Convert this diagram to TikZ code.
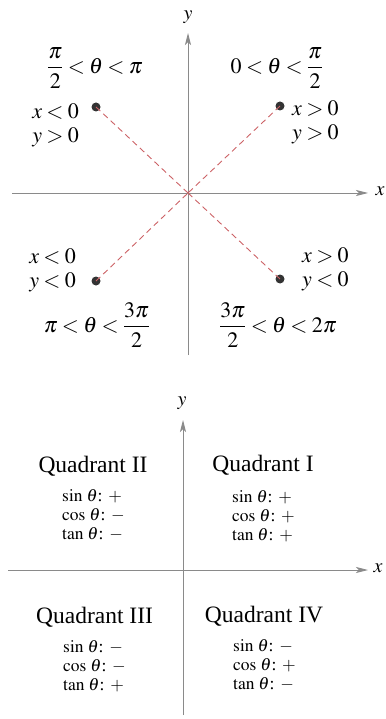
\documentclass[tikz,border=0pt]{standalone}
\usepackage{amsmath}
\usepackage{mathptmx}
\usepackage{fontspec}
\setmainfont{Liberation Serif}
\usepackage{tikz}
\usetikzlibrary{arrows.meta,positioning}
\thickmuskip=3.5mu plus 2mu
\definecolor{axisgray}{HTML}{8A8A8A}
\definecolor{raydash}{HTML}{CC6266}
\definecolor{dotink}{HTML}{333333}
\newcommand{\sgn}[2]{$\csname #1\endcsname\,\theta$: $#2$}
\tikzset{
  axis/.style={draw=axisgray,line width=0.9pt,-{Stealth[length=12pt,width=6pt,inset=3pt]}},
  axisplain/.style={draw=axisgray,line width=0.9pt},
  ray/.style={draw=raydash,line width=0.9pt,dash pattern=on 6pt off 4pt},
  dot/.style={circle,fill=dotink,inner sep=0pt,minimum size=9pt},
  lbl/.style={font=\fontsize{22}{24}\selectfont,inner sep=0pt},
  axlbl/.style={font=\fontsize{20}{22}\selectfont,inner sep=0pt},
  quad/.style={font=\fontsize{23.5}{26}\selectfont,inner sep=0pt},
  trig/.style={font=\fontsize{17.5}{19}\selectfont,align=left,anchor=west,inner sep=0pt},
}
\begin{document}
\begin{tikzpicture}[x=1pt,y=-1pt]
  \useasboundingbox (0,0) rectangle (385,719);
  % top: signs of x and y
  \coordinate (O) at (188,193);
  \coordinate (xl) at (12,193);  \coordinate (xr) at (368,193);
  \coordinate (yb) at (188,355); \coordinate (yt) at (188,33);
  \draw[axis] (xl) -- (xr);
  \draw[axisplain] (yb) -- (O);
  \draw[axis] (O) -- (yt);
  \node[axlbl] (xlab) at (380,191) {$x$};
  \node[axlbl] (ylab) at (188,17) {$y$};
  \node[dot] (p2) at (96,107) {};
  \node[dot] (p1) at (280,106) {};
  \node[dot] (p3) at (96,281) {};
  \node[dot] (p4) at (280,279) {};
  \foreach \p in {p1,p2,p3,p4}{ \draw[ray] (\p.center) -- (O); }
  \node[lbl] (ang2) at (95,68) {$\dfrac{\pi}{2}<\theta<\pi$};
  \node[lbl] (ang1) at (277,68) {$0<\theta<\dfrac{\pi}{2}$};
  \node[lbl] (ang3) at (97,325) {$\pi<\theta<\dfrac{3\pi}{2}$};
  \node[lbl] (ang4) at (278,325) {$\dfrac{3\pi}{2}<\theta<2\pi$};
  \node[lbl,align=right,anchor=east] (sg2) at (79,125) {$x<0$\\$y>0$};
  \node[lbl,align=left,anchor=west] (sg1) at (292,122) {$x>0$\\$y>0$};
  \node[lbl,align=right,anchor=east] (sg3) at (76,270) {$x<0$\\$y<0$};
  \node[lbl,align=left,anchor=west] (sg4) at (302,269) {$x>0$\\$y<0$};
  % bottom: signs of sin, cos, tan
  \coordinate (Q) at (183,570);
  \coordinate (qxl) at (8,570);   \coordinate (qxr) at (368,570);
  \coordinate (qyb) at (183,715); \coordinate (qyt) at (183,420);
  \draw[axis] (qxl) -- (qxr);
  \draw[axisplain] (qyb) -- (Q);
  \draw[axis] (Q) -- (qyt);
  \node[axlbl] (qxlab) at (378,568) {$x$};
  \node[axlbl] (qylab) at (182,403) {$y$};
  \node[quad] (q2) at (93,466) {Quadrant II};
  \node[quad] (q1) at (263,465) {Quadrant I};
  \node[quad] (q3) at (94.5,617) {Quadrant III};
  \node[quad] (q4) at (264,616) {Quadrant IV};
  \node[trig] (t2) at (62,515) {\sgn{sin}{+}\\\sgn{cos}{-}\\\sgn{tan}{-}};
  \node[trig] (t1) at (232,516) {\sgn{sin}{+}\\\sgn{cos}{+}\\\sgn{tan}{+}};
  \node[trig] (t3) at (63,666) {\sgn{sin}{-}\\\sgn{cos}{-}\\\sgn{tan}{+}};
  \node[trig] (t4) at (233,665) {\sgn{sin}{-}\\\sgn{cos}{+}\\\sgn{tan}{-}};
\end{tikzpicture}
\end{document}
